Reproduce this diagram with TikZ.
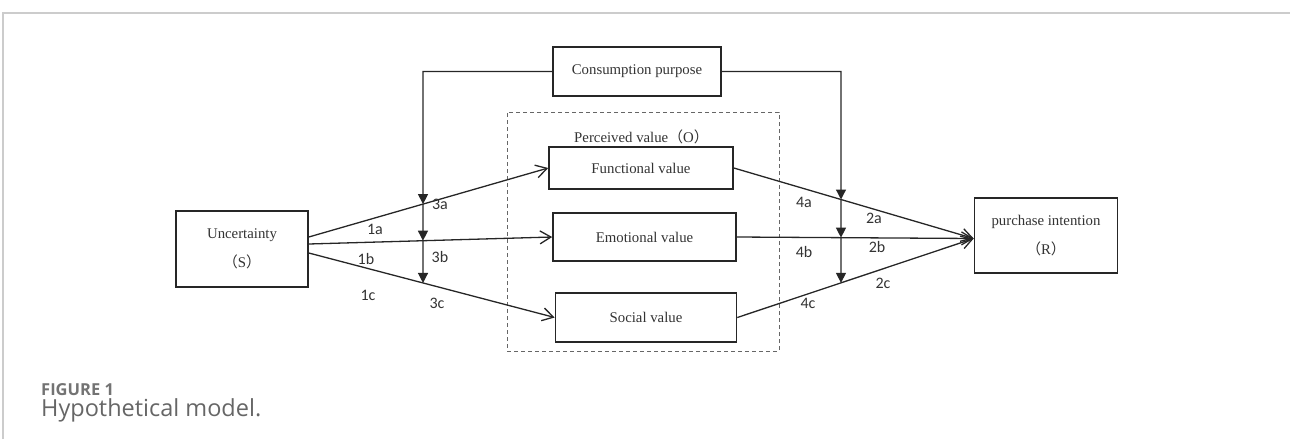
\documentclass[tikz,border=0pt]{standalone}
\usepackage{fontspec}
\setmainfont{Liberation Serif}
\newfontfamily\labfont{Carlito}
\newfontfamily\capfont{Open Sans}
\newfontfamily\cjk{Noto Sans CJK SC}
\usetikzlibrary{arrows.meta}

\newcommand{\fwp}[1]{{\cjk （}#1{\cjk ）}}

\begin{document}
\begin{tikzpicture}[x=1pt, y=-1pt,
	every node/.style={font=\fontsize{14.8}{18}\selectfont, text=black!80},
	box/.style={draw=black!85, line width=1.6pt, inner sep=0pt},
	link/.style={draw=black!85, line width=1.3pt, -{Straight Barb[length=11pt,width=13pt]}},
	moder/.style={draw=black!85, line width=1.3pt, -{Triangle[length=10pt,width=10pt]}},
	hyp/.style={font={\fontsize{16}{18}\labfont}}]
	\useasboundingbox (0,0) rectangle (1290,439);
	\draw[black!20, line width=2pt] (3,439) -- (3,12.5) -- (1290,12.5);

	\node[draw=black!60, dashed, dash pattern=on 4pt off 3pt, line width=1pt, inner sep=0pt,
		minimum width=272pt, minimum height=239pt] (pv) at (643,231.5) {};
	\node[anchor=west, inner sep=0pt] (pvl) at (574,137) {Perceived value\fwp{O}};

	\node[box, minimum width=168pt, minimum height=49pt] (cpur) at (637,71.5) {Consumption purpose};
	\node[box, minimum width=184pt, minimum height=42pt] (func) at (641,168) {Functional value};
	\node[box, minimum width=183pt, minimum height=48pt] (emo) at (644.5,237) {Emotional value};
	\node[box, minimum width=181pt, minimum height=49pt] (soc) at (646,317.5) {Social value};
	\node[box, minimum width=132pt, minimum height=76pt, align=center] (unc) at (242,249) {Uncertainty\\[11pt]\fwp{S}};
	\node[box, minimum width=143pt, minimum height=75pt, align=center] (pur) at (1046,235.5) {purchase intention\\[11pt]\fwp{R}};

	\coordinate (s1) at ([yshift=12pt]unc.east);
	\coordinate (s2) at ([yshift=5pt]unc.east);
	\coordinate (s3) at ([yshift=-4pt]unc.east);
	\coordinate (r) at ([yshift=-3pt]pur.west);
	\coordinate (kl) at (423,71.5);
	\coordinate (klb) at (423,400);
	\coordinate (kr) at (841,71.5);
	\coordinate (krb) at (841,400);

	\draw[link] (s1) -- (func.west);
	\draw[link] (s2) -- (emo.west);
	\draw[link] (s3) -- (soc.west);
	\draw[link] (func.east) -- (r);
	\draw[link] (emo.east) -- (r);
	\draw[link] (soc.east) -- (r);

	\coordinate (m1) at (intersection of s1--func.west and kl--klb);
	\coordinate (m2) at (intersection of s2--emo.west and kl--klb);
	\coordinate (m3) at (intersection of s3--soc.west and kl--klb);
	\coordinate (n1) at (intersection of func.east--r and kr--krb);
	\coordinate (n2) at (intersection of emo.east--r and kr--krb);
	\coordinate (n3) at (intersection of soc.east--r and kr--krb);

	\draw[moder] (cpur.west) -- (kl) -- (m1);
	\draw[moder] (m1) -- (m2);
	\draw[moder] (m2) -- (m3);
	\draw[moder] (cpur.east) -- (kr) -- (n1);
	\draw[moder] (n1) -- (n2);
	\draw[moder] (n2) -- (n3);

	\node[hyp] (h1a) at (375,229) {1a};
	\node[hyp] (h1b) at (366,259) {1b};
	\node[hyp] (h1c) at (368,295) {1c};
	\node[hyp] (h3a) at (440,204) {3a};
	\node[hyp] (h3b) at (440,257) {3b};
	\node[hyp] (h3c) at (437,303) {3c};
	\node[hyp] (h4a) at (804,202) {4a};
	\node[hyp] (h4b) at (804,252) {4b};
	\node[hyp] (h4c) at (808,303) {4c};
	\node[hyp] (h2a) at (874,218) {2a};
	\node[hyp] (h2b) at (877,247) {2b};
	\node[hyp] (h2c) at (883,283) {2c};

	\node[anchor=base west, inner sep=0pt, text=black!55, font={\fontsize{16.5}{20}\capfont\bfseries}] (fig) at (41,395.5) {FIGURE 1};
	\node[anchor=base west, inner sep=0pt, text=black!60, font={\fontsize{23.5}{28}\capfont}] (cap) at (41,416) {Hypothetical model.};
\end{tikzpicture}
\end{document}
